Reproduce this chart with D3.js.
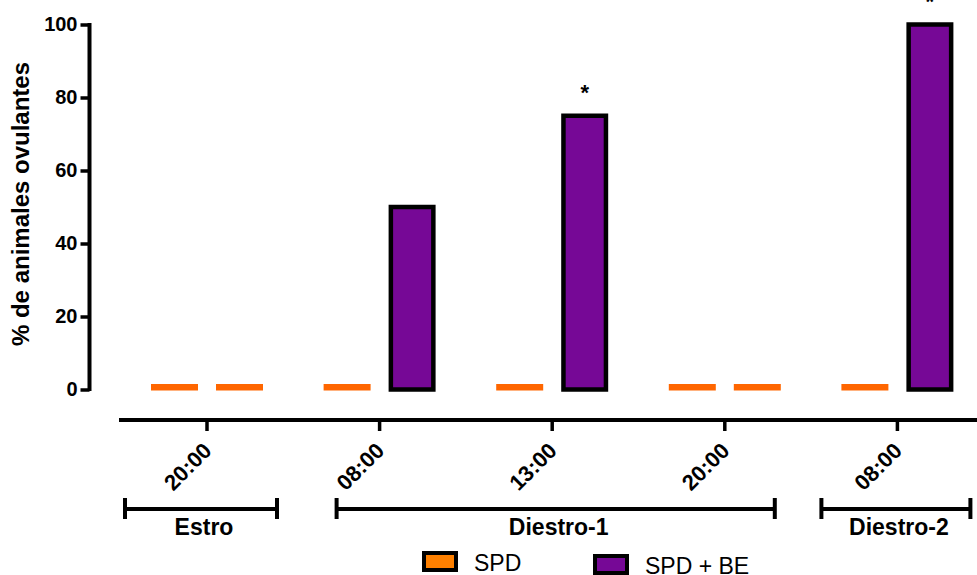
<!DOCTYPE html>
<html>
<head>
<meta charset="utf-8">
<script src="https://cdn.jsdelivr.net/npm/d3@7"></script>
<style>
  body { margin: 0; background: #fff; }
  svg { display: block; font-family: "Liberation Sans", Arial, sans-serif; }
</style>
</head>
<body>
<svg id="viz"></svg>
<script>
// data
const times = ["20:00", "08:00", "13:00", "20:00", "08:00"];
const spd = [0, 0, 0, 0, 0];
const spdBe = [0, 50, 75, 0, 100];
const marks = ["", "", "*", "", "*"];
const yTicks = [0, 20, 40, 60, 80, 100];
const phases = ["Estro", "Diestro-1", "Diestro-2"];
const phaseFirst = [0, 1, 4];
const phaseLast = [0, 3, 4];
const seriesNames = ["SPD", "SPD + BE"];

const width = 977, height = 575;
const orange = "#ff6600";
const purple = "#760896";

const svg = d3.select("#viz")
  .attr("width", width)
  .attr("height", height);

const y = d3.scaleLinear().domain([0, 100]).range([389.5, 24.5]);

const x = d3.scaleBand()
  .domain(d3.range(times.length))
  .range([120.7, 983.7])
  .padding(0);

const xs = d3.scaleBand()
  .domain(["spd", "be"])
  .range([-56, 56])
  .paddingInner(0.277);

// y axis
const yAxis = svg.append("g")
  .attr("transform", "translate(89.5,0)")
  .call(d3.axisLeft(y).tickValues(yTicks).tickSize(9).tickPadding(3));
yAxis.select(".domain").attr("stroke", "#000").attr("stroke-width", 4)
  .attr("d", `M0,${y(100) - 1.5}V${y(0) + 1.5}`);
yAxis.selectAll(".tick line").attr("stroke", "#000").attr("stroke-width", 3.5);
yAxis.selectAll(".tick text")
  .attr("font-size", 20).attr("font-weight", "bold").attr("fill", "#000")
  .attr("font-family", "Liberation Sans, Arial, sans-serif");

svg.append("text")
  .attr("transform", "translate(29,204) rotate(-90)")
  .attr("text-anchor", "middle")
  .attr("font-size", 24)
  .attr("font-weight", "bold")
  .text("% de animales ovulantes");

// x axis
const xAxisY = 420;
svg.append("line")
  .attr("x1", 119).attr("x2", width)
  .attr("y1", xAxisY).attr("y2", xAxisY)
  .attr("stroke", "#000").attr("stroke-width", 4);

const cx = i => x(i) + x.bandwidth() / 2;

svg.selectAll(".xtick")
  .data(times)
  .enter()
  .append("line")
  .attr("x1", (d, i) => cx(i)).attr("x2", (d, i) => cx(i))
  .attr("y1", xAxisY).attr("y2", xAxisY + 11)
  .attr("stroke", "#000").attr("stroke-width", 3.5);

svg.selectAll(".xlabel")
  .data(times)
  .enter()
  .append("text")
  .attr("transform", (d, i) => `translate(${cx(i) + 6},452) rotate(-45)`)
  .attr("text-anchor", "end")
  .attr("font-size", 22)
  .attr("font-weight", "bold")
  .text(d => d);

// bars
const sw = 4.5;
const bars = [];
times.forEach((t, i) => {
  bars.push({ i, key: "spd", v: spd[i] });
  bars.push({ i, key: "be", v: spdBe[i] });
});

// zero values: flat orange dash on the baseline
svg.selectAll(".zero")
  .data(bars.filter(d => d.v === 0))
  .enter()
  .append("rect")
  .attr("x", d => cx(d.i) + xs(d.key))
  .attr("y", y(0) - 5.5)
  .attr("width", xs.bandwidth())
  .attr("height", 6.5)
  .attr("fill", orange);

svg.selectAll(".bar")
  .data(bars.filter(d => d.v > 0))
  .enter()
  .append("rect")
  .attr("x", d => cx(d.i) + xs(d.key) + sw / 2)
  .attr("y", d => y(d.v))
  .attr("width", xs.bandwidth() - sw)
  .attr("height", d => y(0) - y(d.v))
  .attr("fill", d => d.key === "be" ? purple : orange)
  .attr("stroke", "#000")
  .attr("stroke-width", sw);

svg.selectAll(".star")
  .data(marks)
  .enter()
  .append("text")
  .attr("x", (d, i) => cx(i) + xs("be") + xs.bandwidth() / 2)
  .attr("y", (d, i) => y(spdBe[i]) - 16)
  .attr("text-anchor", "middle")
  .attr("font-size", 22)
  .attr("font-weight", "bold")
  .text(d => d);

// phase brackets
const padLeft = [82, 43, 76];
const padRight = [70, 50, 73];
const brY = 509;
phases.forEach((p, k) => {
  const x0 = cx(phaseFirst[k]) - padLeft[k];
  const x1 = cx(phaseLast[k]) + padRight[k];
  const g = svg.append("g");
  g.append("line").attr("x1", x0).attr("x2", x1).attr("y1", brY).attr("y2", brY)
    .attr("stroke", "#000").attr("stroke-width", 4);
  [x0, x1].forEach(xx => {
    g.append("line").attr("x1", xx).attr("x2", xx).attr("y1", brY - 11).attr("y2", brY + 10)
      .attr("stroke", "#000").attr("stroke-width", 4);
  });
  g.append("text")
    .attr("x", (x0 + x1) / 2 + 3)
    .attr("y", 535)
    .attr("text-anchor", "middle")
    .attr("font-size", 23)
    .attr("font-weight", "bold")
    .text(p);
});

// legend
const legend = [
  { name: seriesNames[0], color: "#ff8000", x: 424, y: 553 },
  { name: seriesNames[1], color: purple, x: 595, y: 556 }
];
legend.forEach(l => {
  svg.append("rect")
    .attr("x", l.x).attr("y", l.y)
    .attr("width", 32).attr("height", 17)
    .attr("fill", l.color).attr("stroke", "#000").attr("stroke-width", 4);
  svg.append("text")
    .attr("x", l.x + 50).attr("y", l.y + 18)
    .attr("font-size", 23)
    .text(l.name);
});
</script>
</body>
</html>
